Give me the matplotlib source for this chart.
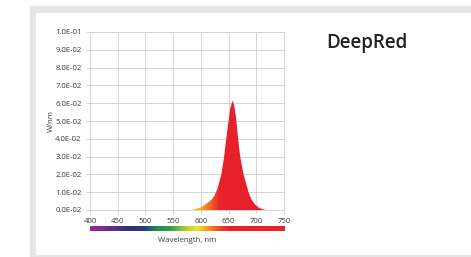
import numpy as np
import matplotlib
matplotlib.use("Agg")
import matplotlib.pyplot as plt
from matplotlib.colors import LinearSegmentedColormap
from matplotlib.patches import Rectangle, Polygon

plt.rcParams['font.family'] = ['Open Sans', 'DejaVu Sans']

# spectrum
wl = [580, 590, 600, 605, 610, 620, 625, 630, 637, 642, 645, 650, 653, 657,
      660, 663, 665, 668, 671, 677, 686, 692, 698, 705, 714, 720]
power = [0, 0.0005, 0.0015, 0.0025, 0.0035, 0.006, 0.0085, 0.012, 0.02, 0.03,
         0.038, 0.05, 0.057, 0.0614, 0.059, 0.053, 0.047, 0.038, 0.030, 0.020,
         0.010, 0.0055, 0.003, 0.0012, 0.0002, 0]
yticks = [0.0, 0.01, 0.02, 0.03, 0.04, 0.05, 0.06, 0.07, 0.08, 0.09, 0.1]
ylabels = ['0.0E-02', '1.0E-02', '2.0E-02', '3.0E-02', '4.0E-02', '5.0E-02',
           '6.0E-02', '7.0E-02', '8.0E-02', '9.0E-02', '1.0E-01']
xticks = [400, 450, 500, 550, 600, 650, 700, 750]

W, H = 471, 257
fig = plt.figure(figsize=(W / 100, H / 100), dpi=100)

# grey panel frame
frame = '#e6e6e6'
fig.patches.append(Rectangle((30 / W, 1 - 12 / H), 440 / W, 6 / H, transform=fig.transFigure, color=frame, zorder=0))
fig.patches.append(Rectangle((30 / W, 1 - 256 / H), 5 / W, 244 / H, transform=fig.transFigure, color=frame, zorder=0))
fig.patches.append(Rectangle((30 / W, 1 - 256 / H), 441 / W, 1.5 / H, transform=fig.transFigure, color=frame, zorder=0))

ax = fig.add_axes([90 / W, 1 - 210 / H, 194 / W, 178 / H])
ax.set_xticks(xticks)
ax.set_yticks(yticks, ylabels)
ax.grid(color='#d4d4d4', linewidth=0.7)
ax.set_axisbelow(True)
for s in ax.spines.values():
    s.set_color('#d4d4d4')
    s.set_linewidth(0.7)
ax.tick_params(length=3, color='#d4d4d4', labelsize=5.6, labelcolor='#3a3a3a', pad=3)
ax.set_ylabel('W/nm', fontsize=5.6, color='#3a3a3a', labelpad=0)

# gradient filled peak
fill_cmap = LinearSegmentedColormap.from_list('fill', [
    (0.0, '#f6c80f'), (0.14, '#f49a1a'), (0.27, '#ee5224'), (0.36, '#e8202a'), (1.0, '#e8202a')])
grad = np.linspace(0, 1, 256).reshape(1, -1)
img = ax.imshow(grad, extent=[585, 720, 0, 0.0614], aspect='auto', cmap=fill_cmap, zorder=2)
poly = Polygon(np.column_stack([wl, power]), closed=True, transform=ax.transData, facecolor='none', edgecolor='none')
ax.add_patch(poly)
img.set_clip_path(poly)
ax.set_xlim(400, 750)
ax.set_ylim(0, 0.1)

# wavelength colour bar
cax = fig.add_axes([90 / W, 1 - 231 / H, 194 / W, 5 / H])
spec = LinearSegmentedColormap.from_list('spec', [
    (0.0, '#9b2a8e'), (0.1, '#6a2c8c'), (0.2, '#2e3180'), (0.27, '#233a7e'),
    (0.34, '#1f8a5a'), (0.42, '#3aa547'), (0.5, '#b7d433'), (0.55, '#f4e41c'),
    (0.6, '#f6a21a'), (0.66, '#ee4a25'), (0.72, '#e8202a'), (1.0, '#e8202a')])
cax.imshow(grad, extent=[400, 750, 0, 1], aspect='auto', cmap=spec)
cax.set_axis_off()

fig.text(187 / W, 1 - 240 / H, 'Wavelength, nm', fontsize=5.6, color='#3a3a3a', ha='center', va='center')
fig.text(326 / W, 1 - 43 / H, 'DeepRed', fontsize=13.5, fontweight='semibold', color='#231f20', ha='left', va='center')

fig.savefig('out.png', dpi=100)
